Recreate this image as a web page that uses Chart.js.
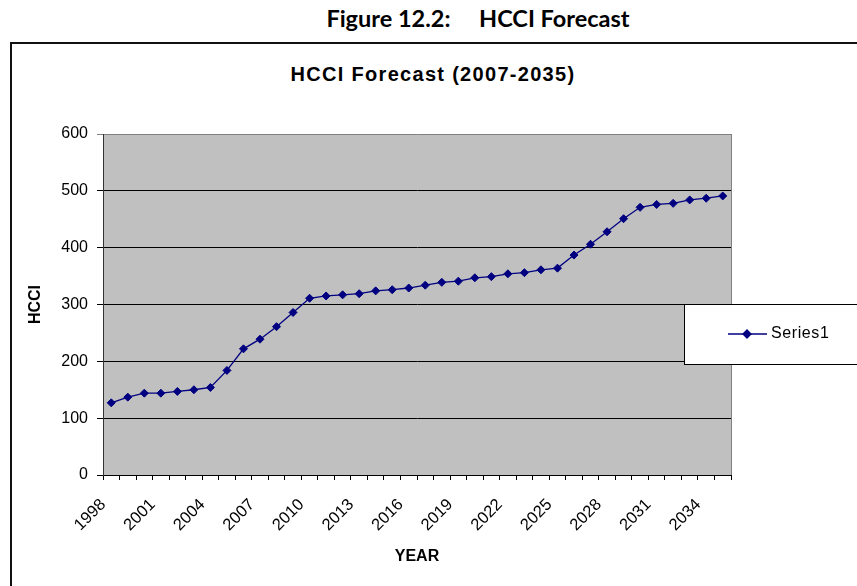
<!DOCTYPE html>
<html>
<head>
<meta charset="utf-8">
<script src="https://cdn.jsdelivr.net/npm/chart.js@4.4.1/dist/chart.umd.min.js"></script>
<style>
  html, body { margin: 0; padding: 0; background: #fff; overflow: hidden; }
  #wrap { position: relative; width: 857px; height: 586px; }
  #figTitle { position: absolute; left: 0; top: 4px; width: 956px; text-align: center; font: bold 23.5px Lato, sans-serif; white-space: pre; color: #000; }
  #frame { position: absolute; left: 10px; top: 42px; width: 900px; height: 600px; border: 2px solid #111; }
  #chartTitle { position: absolute; left: 0; top: 63px; width: 866px; text-align: center; font: bold 20px "Liberation Sans", Arial, sans-serif; letter-spacing: 1.3px; color: #000; }
  #box { position: absolute; left: 0; top: 0; width: 857px; height: 586px; }
</style>
</head>
<body>
<div id="wrap">
  <div id="figTitle">Figure 12.2:     HCCI Forecast</div>
  <div id="frame"></div>
  <div id="chartTitle">HCCI Forecast (2007-2035)</div>
  <div id="box"><canvas id="hcciChart"></canvas></div>
</div>
<script>
// data
const years = ['1998', '1999', '2000', '2001', '2002', '2003', '2004', '2005', '2006', '2007',
  '2008', '2009', '2010', '2011', '2012', '2013', '2014', '2015', '2016', '2017',
  '2018', '2019', '2020', '2021', '2022', '2023', '2024', '2025', '2026', '2027',
  '2028', '2029', '2030', '2031', '2032', '2033', '2034', '2035'];
const hcci = [127, 137, 144, 144, 147, 150, 154, 184, 222, 239,
  261, 286, 311, 315, 317, 319, 324, 326, 329, 334,
  339, 341, 347, 349, 354, 356, 361, 364, 387, 406,
  428, 451, 471, 476, 478, 484, 487, 491];
const shownYears = ['1998', '2001', '2004', '2007', '2010', '2013', '2016', '2019', '2022', '2025', '2028', '2031', '2034'];
const yTicks = [0, 100, 200, 300, 400, 500, 600];

const FONT = '"Liberation Sans", Arial, sans-serif';
const NAVY = '#000080';
Chart.defaults.font.family = FONT;
Chart.defaults.color = '#000';

// grey plot area like the Excel original
const plotBg = {
  id: 'plotBg',
  beforeDraw(chart) {
    const { ctx, chartArea: a } = chart;
    ctx.save();
    ctx.fillStyle = '#C0C0C0';
    ctx.fillRect(a.left, a.top, a.right - a.left, a.bottom - a.top);
    ctx.restore();
  },
  beforeDatasetsDraw(chart) {
    const { ctx, chartArea: a } = chart;
    ctx.save();
    ctx.strokeStyle = '#808080';
    ctx.lineWidth = 1;
    ctx.beginPath();
    ctx.moveTo(a.right + 0.5, a.top);
    ctx.lineTo(a.right + 0.5, a.bottom);
    ctx.stroke();
    ctx.restore();
  }
};

// boxed legend sitting over the right edge of the plot
const boxLegend = {
  id: 'boxLegend',
  afterDraw(chart) {
    const { ctx } = chart;
    const ds = chart.data.datasets[0];
    const x = 684, y = 304, w = 190, h = 60, cy = y + h / 2;
    ctx.save();
    ctx.fillStyle = '#fff';
    ctx.fillRect(x, y, w, h);
    ctx.strokeStyle = '#000';
    ctx.lineWidth = 1;
    ctx.strokeRect(x + 0.5, y + 0.5, w, h);
    ctx.strokeStyle = ds.borderColor;
    ctx.lineWidth = ds.borderWidth;
    ctx.beginPath();
    ctx.moveTo(728, cy);
    ctx.lineTo(767, cy);
    ctx.stroke();
    Chart.helpers.drawPoint(ctx, { pointStyle: 'rectRot', radius: ds.pointRadius, borderWidth: 1 }, 747, cy);
    ctx.fillStyle = ds.pointBackgroundColor;
    ctx.fill();
    ctx.fillStyle = '#000';
    ctx.font = '16px ' + FONT;
    ctx.letterSpacing = '0.6px';
    ctx.textBaseline = 'middle';
    ctx.fillText(ds.label, 771, cy);
    ctx.restore();
  }
};

new Chart(document.getElementById('hcciChart'), {
  type: 'line',
  data: {
    labels: years,
    datasets: [{
      label: 'Series1',
      data: hcci,
      borderColor: NAVY,
      borderWidth: 1.3,
      pointStyle: 'rectRot',
      pointRadius: 4,
      pointBackgroundColor: NAVY,
      pointBorderColor: NAVY,
      pointBorderWidth: 1,
      tension: 0
    }]
  },
  options: {
    responsive: true,
    maintainAspectRatio: false,
    animation: false,
    layout: { padding: { left: 14, top: 134, right: 126, bottom: 20 } },
    plugins: { legend: { display: false }, tooltip: { enabled: false }, title: { display: false } },
    scales: {
      x: {
        offset: true,
        grid: { offset: true, drawOnChartArea: false, drawTicks: true, tickLength: 5, color: '#000' },
        border: { color: '#000', width: 1 },
        ticks: {
          autoSkip: false, minRotation: 45, maxRotation: 45, padding: 15, labelOffset: -8,
          font: { size: 16.5 },
          callback: (v, i) => shownYears.includes(years[i]) ? years[i] : ''
        },
        title: { display: true, text: 'YEAR', font: { size: 16, weight: 'bold' }, padding: { top: 0, bottom: 0 } },
        afterFit: s => { s.height = 91; }
      },
      y: {
        min: 0, max: 600,
        afterBuildTicks: s => { s.ticks = yTicks.map(v => ({ value: v })); },
        grid: { color: c => c.tick && c.tick.value === 600 ? '#808080' : '#000', tickLength: 6 },
        border: { color: '#333' },
        ticks: { padding: 9, font: { size: 16 } },
        title: { display: true, text: 'HCCI', font: { size: 16, weight: 'bold' }, padding: { top: 12, bottom: 0 } },
        afterFit: s => { s.width = 89; }
      }
    }
  },
  plugins: [plotBg, boxLegend]
});
</script>
</body>
</html>
